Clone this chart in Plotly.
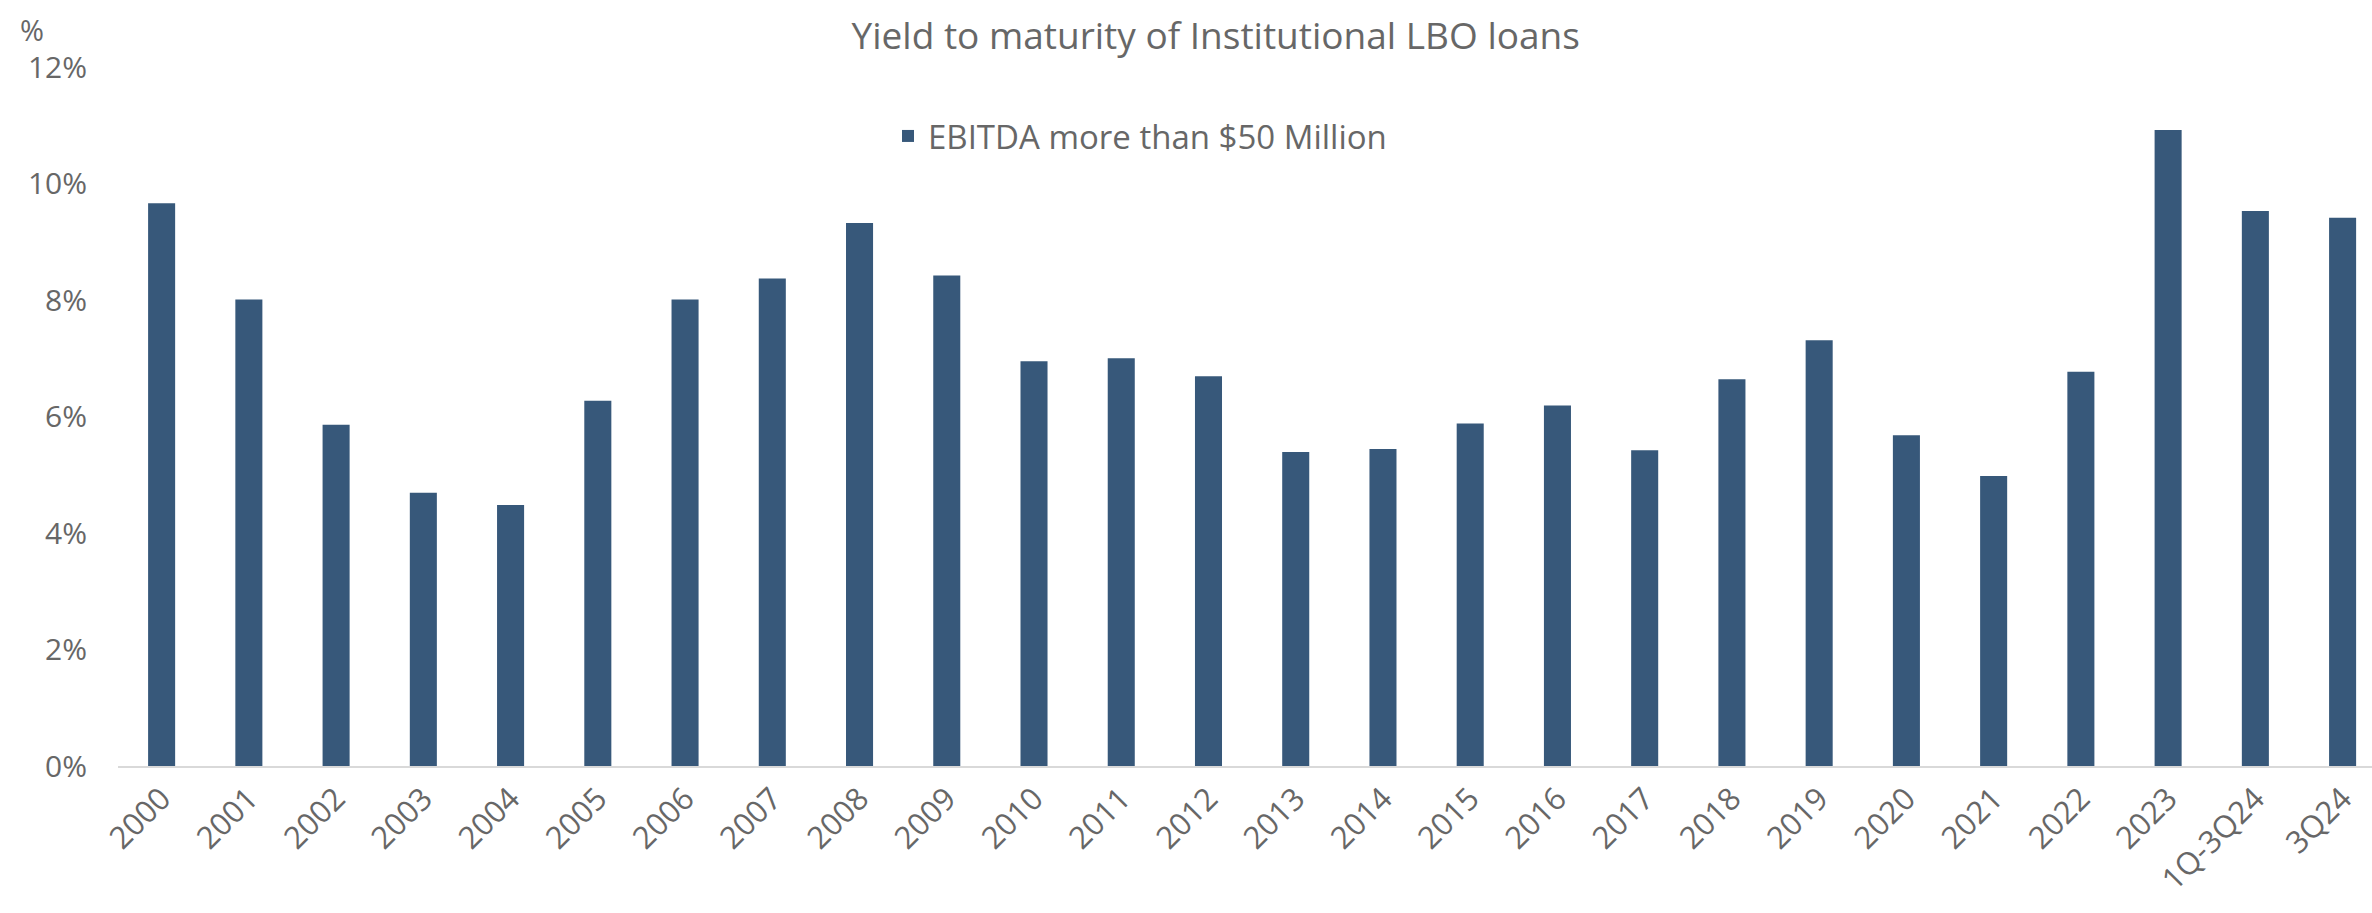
import plotly.graph_objects as go

categories = ["2000", "2001", "2002", "2003", "2004", "2005", "2006", "2007", "2008", "2009",
              "2010", "2011", "2012", "2013", "2014", "2015", "2016", "2017", "2018", "2019",
              "2020", "2021", "2022", "2023", "1Q-3Q24", "3Q24"]
ytm_values = [9.66, 8.01, 5.86, 4.69, 4.48, 6.27, 8.01, 8.37, 9.32, 8.42,
              6.95, 7.00, 6.69, 5.39, 5.44, 5.88, 6.19, 5.42, 6.64, 7.31,
              5.68, 4.98, 6.77, 10.92, 9.53, 9.41]
series_name = "EBITDA more than $50 Million"
y_ticks = [0, 2, 4, 6, 8, 10, 12]
y_tick_labels = ["0%", "2%", "4%", "6%", "8%", "10%", "12%"]

TEXT = "#676767"
BAR = "#37587A"
FONT = "Open Sans"

fig = go.Figure()
fig.add_trace(go.Bar(
    x=categories, y=ytm_values, name=series_name,
    marker=dict(color=BAR, line=dict(width=0)),
    showlegend=True,
))

fig.update_layout(
    width=2372, height=913,
    margin=dict(l=118, r=0, t=67, b=147, pad=0),
    paper_bgcolor="white", plot_bgcolor="white",
    bargap=0.69,
    font=dict(family=FONT, color=TEXT, size=30),
    title=dict(text="Yield to maturity of Institutional LBO loans",
               x=0.487, xref="paper", xanchor="center",
               y=1 - 36 / 913, yref="container", yanchor="middle",
               font=dict(size=37, color=TEXT, family=FONT)),
    showlegend=True,
    legend=dict(x=(888 - 118) / 2254, xanchor="left", y=1 - (136 - 67) / 699, yanchor="middle",
                orientation="h", font=dict(size=33, color=TEXT, family=FONT),
                bgcolor="rgba(0,0,0,0)"),
    xaxis=dict(type="category", range=[-0.5, 25.337], tickangle=-45,
               showline=True, linecolor="#d9d9d9", linewidth=2,
               showgrid=False, ticks="", tickfont=dict(size=31, color=TEXT)),
    yaxis=dict(range=[0, 12], tickvals=y_ticks, ticktext=y_tick_labels,
               showgrid=False, zeroline=False, showline=False, ticks="",
               ticklabelstandoff=30, tickfont=dict(size=30, color=TEXT)),
)

fig.add_annotation(text="%", xref="paper", yref="paper", x=-(118 - 18) / 2254, y=1 + (67 - 30) / 699,
                   xanchor="left", yanchor="middle", showarrow=False,
                   font=dict(size=29, color=TEXT, family=FONT))

fig.write_html("out.html")
